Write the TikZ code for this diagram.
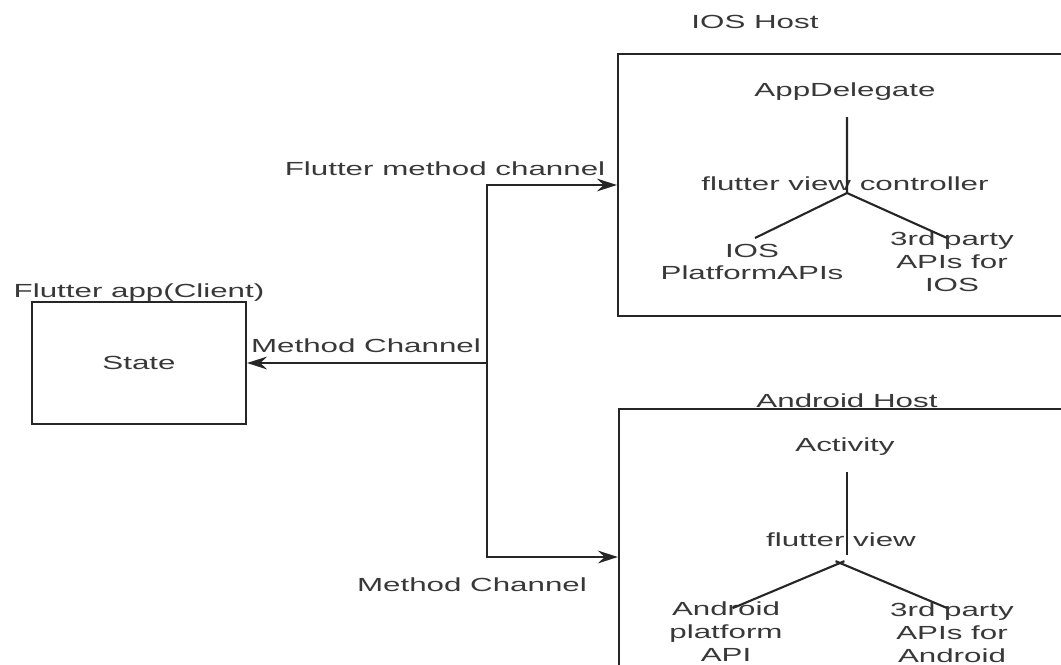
\documentclass[tikz,border=0pt]{standalone}
\usepackage{fontspec}
\setmainfont{Liberation Sans}
\usetikzlibrary{arrows.meta}

\begin{document}
\begin{tikzpicture}[x=0.025cm,y=-0.025cm,
  txt/.style={text=black!78,font=\fontsize{13.5}{16.3}\selectfont,xscale=1.65,align=center,inner sep=0pt},
  box/.style={draw=black!85,line width=1.5pt,inner sep=0pt},
  ln/.style={draw=black!85,line width=1.5pt},
  arr/.style={ln,-{Stealth[length=0.5cm,width=0.32cm,inset=0.17cm]}}]
\useasboundingbox (0,0) rectangle (1061,665);
\clip (0,0) rectangle (1061,665);
% boxes
\node[box,minimum width=5.35cm,minimum height=3.05cm] (state) at (139,363) {};
\node[box,minimum width=11.425cm,minimum height=6.55cm] (ios) at (846.5,185) {};
\node[box,minimum width=11.4cm,minimum height=7.4cm] (andr) at (847,557) {};
\node[txt] (client) at (139,293) {Flutter app(Client)};
\node[txt] (statelbl) at (state) {State};
\node[txt] (ioshost) at (755,22) {IOS Host};
\node[txt] (andhost) at (847,401) {Android Host};
% channels
\coordinate (hub) at (487,363);
\draw[arr] (hub) -- (state.east);
\draw[arr] (hub) |- (ios.west);
\draw[arr] (hub) |- (andr.west);
\node[txt] (fmc) at (445,169) {Flutter method channel};
\node[txt] (mc1) at (366,346) {Method Channel};
\node[txt] (mc2) at (472,585) {Method Channel};
% ios tree
\node[txt] (appd) at (845,92) {AppDelegate};
\node[txt] (fvc) at (845,184) {flutter view controller};
\node[txt] (iosapi) at (752,262) {IOS\\PlatformAPIs};
\node[txt] (ios3rd) at (952,262) {3rd party\\APIs for\\IOS};
\coordinate (iostop) at (847,117);
\coordinate (iosfork) at (847,193);
\coordinate (iosl) at (755,238);
\coordinate (iosr) at (947,238);
\draw[ln] (iostop) -- (iosfork) -- (iosl) (iosfork) -- (iosr);
% android tree
\node[txt] (act) at (845,447) {Activity};
\node[txt] (fv) at (841,540) {flutter view};
\node[txt] (andapi) at (726,632) {Android\\platform\\API};
\node[txt] (and3rd) at (952,633) {3rd party\\APIs for\\Android};
\coordinate (andtop) at (847,472);
\coordinate (andbot) at (847,555);
\coordinate (andfork) at (840,563);
\coordinate (andl) at (733,608);
\coordinate (andr) at (947,608);
\draw[ln] (andtop) -- (andbot);
\draw[ln,shorten >=-0.12cm] (andl) -- (andfork);
\draw[ln,shorten >=-0.12cm] (andr) -- (andfork);
\end{tikzpicture}
\end{document}
